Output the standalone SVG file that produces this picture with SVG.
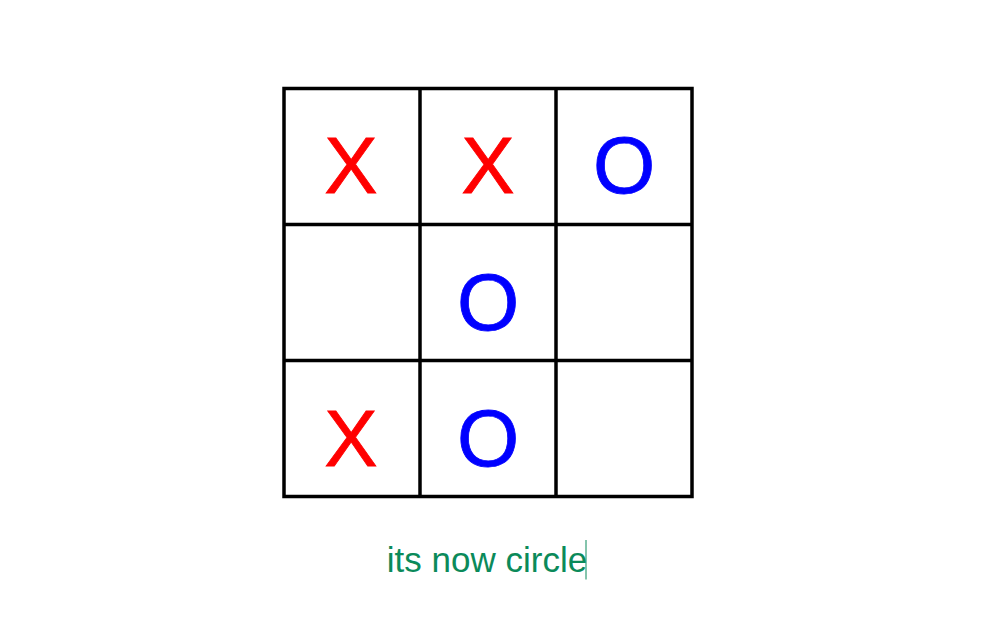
<svg xmlns="http://www.w3.org/2000/svg" width="991" height="632" viewBox="0 0 991 632">
<style>
.grid{fill:none;stroke:#000;stroke-width:3.5}
.x{fill:#ff0000;font-family:"Liberation Sans",Arial,sans-serif;font-size:80px;text-anchor:middle;stroke:#ff0000;stroke-width:0.8}
.o{fill:#0000ff;font-family:"Liberation Sans",Arial,sans-serif;font-size:80px;text-anchor:middle;stroke:#0000ff;stroke-width:0.8}
.msg{fill:#0b8a5a;font-family:"Liberation Sans",Arial,sans-serif;font-size:35px;text-anchor:middle}
</style>
<rect width="991" height="632" fill="#fff"/>
<g id="board">
<rect class="grid" x="284" y="88.5" width="408" height="408"/>
<line class="grid" x1="420" y1="88.5" x2="420" y2="496.5"/>
<line class="grid" x1="556" y1="88.5" x2="556" y2="496.5"/>
<line class="grid" x1="284" y1="224.5" x2="692" y2="224.5"/>
<line class="grid" x1="284" y1="360.5" x2="692" y2="360.5"/>
</g>
<g id="cell-0-0"><text class="x" x="351" y="193">X</text></g>
<g id="cell-0-1"><text class="x" x="488" y="193">X</text></g>
<g id="cell-0-2"><text class="o" x="624" y="193">O</text></g>
<g id="cell-1-1"><text class="o" x="488" y="330">O</text></g>
<g id="cell-2-0"><text class="x" x="351" y="466">X</text></g>
<g id="cell-2-1"><text class="o" x="488" y="466">O</text></g>
<g id="status">
<text class="msg" x="487" y="572">its now circle</text>
<line x1="586" y1="540" x2="586" y2="579.5" stroke="#0b8a5a" stroke-width="1"/>
</g>
</svg>
